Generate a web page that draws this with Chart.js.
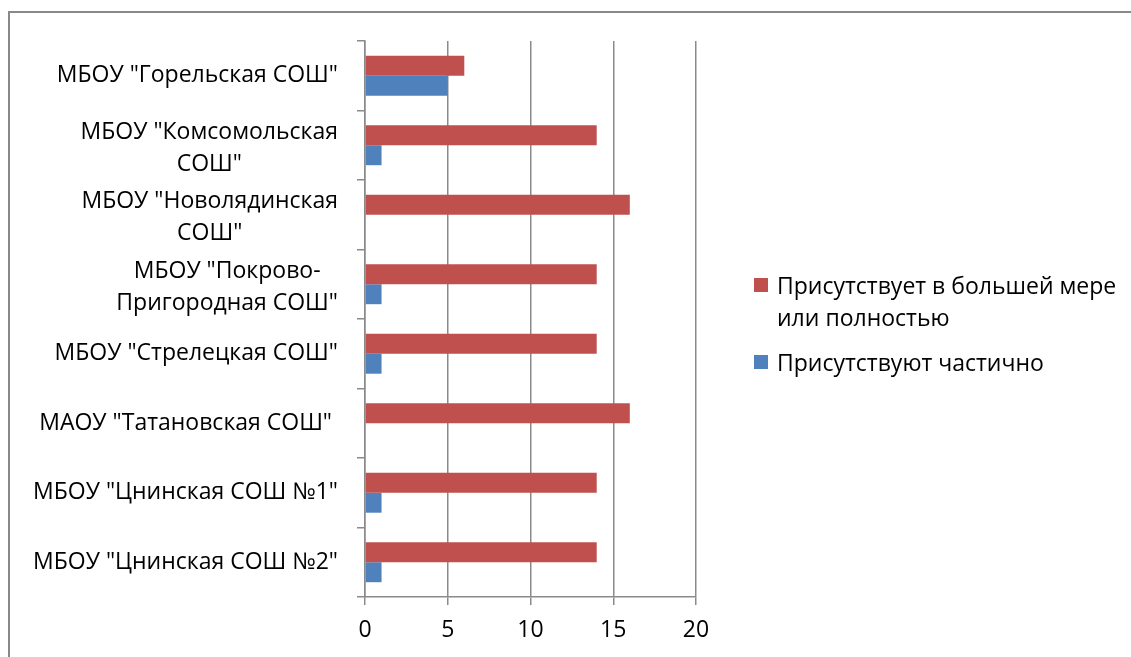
<!DOCTYPE html>
<html>
<head>
<meta charset="utf-8">
<script src="https://cdn.jsdelivr.net/npm/chart.js@4"></script>
<style>
  html, body { margin: 0; padding: 0; background: #fff; overflow: hidden; }
  #wrap { position: relative; width: 1131px; height: 657px; overflow: hidden; }
  #frame { position: absolute; left: 8px; top: 11px; width: 1200px; height: 700px; border: 2px solid #898989; box-sizing: border-box; }
  canvas { position: absolute; left: 0; top: 0; }
  #legend { position: absolute; left: 754px; top: 269px; width: 376px; font-family: "Open Sans", sans-serif; font-size: 23px; color: #000; }
  .item { position: relative; padding-left: 23px; line-height: 32px; margin-bottom: 13px; }
  .sw { position: absolute; left: 0; top: 9px; width: 14px; height: 14px; }
</style>
</head>
<body>
<div id="wrap">
  <div id="frame"></div>
  <canvas id="c" width="1131" height="657"></canvas>
  <div id="legend"></div>
</div>
<script>
const categories = [
  ['МБОУ "Горельская СОШ"'],
  ['МБОУ "Комсомольская', 'СОШ"'],
  ['МБОУ "Новолядинская', 'СОШ"'],
  ['МБОУ "Покрово-', 'Пригородная СОШ"'],
  ['МБОУ "Стрелецкая СОШ"'],
  ['МАОУ "Татановская СОШ" '],
  ['МБОУ "Цнинская СОШ №1"'],
  ['МБОУ "Цнинская СОШ №2"']
];
const seriesNames = ['Присутствует в большей мере или полностью', 'Присутствуют частично'];
const fullValues = [6, 14, 16, 14, 14, 16, 14, 14];
const partialValues = [5, 1, 0, 1, 1, 0, 1, 1];
const xTicks = [0, 5, 10, 15, 20];
const colors = ['#C0504D', '#4F81BD'];

const FONT_FAMILY = '"Open Sans", sans-serif';
const FONT_SIZE = 23;
const FONT = { family: FONT_FAMILY, size: FONT_SIZE };
const GRID = '#8a8a8a';
const LABEL_GAP = 27;
const LINE_H = 32;

const centeredLabels = {
  id: 'centeredLabels',
  afterDraw(chart) {
    const s = chart.scales.y;
    const ctx = chart.ctx;
    ctx.save();
    ctx.font = FONT_SIZE + 'px ' + FONT_FAMILY;
    ctx.fillStyle = '#000';
    ctx.textAlign = 'center';
    ctx.textBaseline = 'middle';
    chart.data.labels.forEach((lab, i) => {
      const lines = Array.isArray(lab) ? lab : [lab];
      const w = Math.max(...lines.map(l => ctx.measureText(l).width));
      const cx = s.right - LABEL_GAP - w / 2;
      const yc = s.getPixelForTick(i) + (lines.length > 1 ? 3 : 0);
      lines.forEach((l, j) => {
        ctx.fillText(l, cx, yc + (j - (lines.length - 1) / 2) * LINE_H);
      });
    });
    ctx.restore();
  }
};

const chart = new Chart(document.getElementById('c'), {
  type: 'bar',
  data: {
    labels: categories,
    datasets: [
      { label: seriesNames[0], data: fullValues, backgroundColor: colors[0] },
      { label: seriesNames[1], data: partialValues, backgroundColor: colors[1] }
    ]
  },
  plugins: [centeredLabels],
  options: {
    indexAxis: 'y',
    responsive: false,
    animation: false,
    devicePixelRatio: 1,
    categoryPercentage: 0.574,
    barPercentage: 1.0,
    layout: { padding: { left: 0, top: 41, right: 435, bottom: 0 } },
    plugins: { legend: { display: false }, tooltip: { enabled: false } },
    scales: {
      x: {
        min: xTicks[0], max: xTicks[xTicks.length - 1],
        afterBuildTicks: s => { s.ticks = xTicks.map(v => ({ value: v })); },
        afterFit: s => { s.height = 60; },
        ticks: { color: '#000', font: FONT, padding: 12 },
        grid: { color: GRID, lineWidth: 1.5, tickLength: 8, drawOnChartArea: true },
        border: { color: GRID, width: 1.5 }
      },
      y: {
        afterFit: s => { s.width = 365; },
        ticks: { display: false, autoSkip: false },
        grid: { color: GRID, lineWidth: 1.5, tickLength: 8, drawOnChartArea: false, offset: true },
        border: { color: GRID, width: 1.5 }
      }
    }
  }
});

const lg = document.getElementById('legend');
chart.data.datasets.forEach(ds => {
  const d = document.createElement('div');
  d.className = 'item';
  const sw = document.createElement('span');
  sw.className = 'sw';
  sw.style.background = ds.backgroundColor;
  d.appendChild(sw);
  d.appendChild(document.createTextNode(ds.label));
  lg.appendChild(d);
});
</script>
</body>
</html>
